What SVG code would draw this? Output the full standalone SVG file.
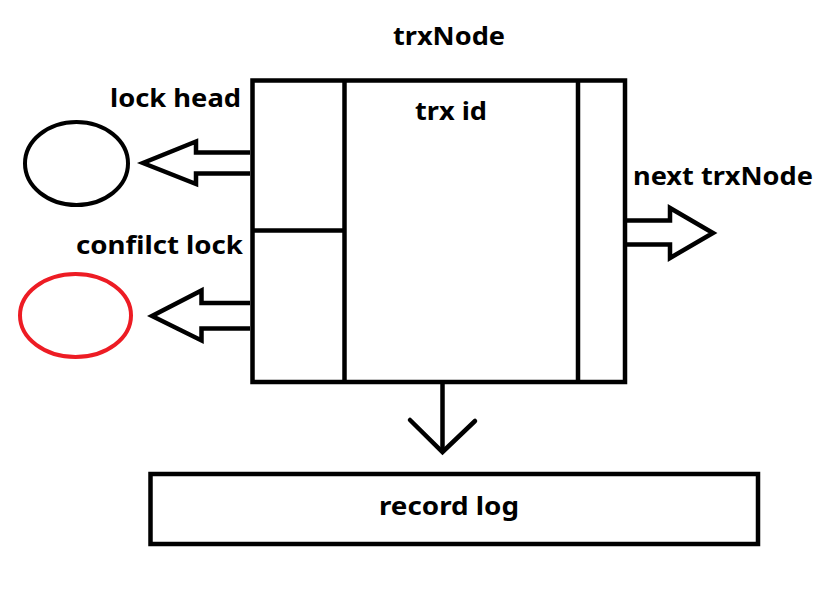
<svg xmlns="http://www.w3.org/2000/svg" width="830" height="607" viewBox="0 0 830 607">
<style>
.bg{fill:#ffffff}
.box{fill:#ffffff;stroke:#000000;stroke-width:4.5}
.ln{fill:none;stroke:#000000;stroke-width:4.5}
.arr{fill:none;stroke:#000000;stroke-width:4.5;stroke-linejoin:miter}
.ell{fill:none;stroke-width:4}
.t{font-family:"Noto Sans","Liberation Sans",sans-serif;font-weight:bold;font-size:25.5px;fill:#000000}
</style>
<rect class="bg" x="0" y="0" width="830" height="607"/>
<g id="trxNode">
<rect class="box" x="252.5" y="80.5" width="372.5" height="301.5"/>
<line class="ln" x1="344.5" y1="80.5" x2="344.5" y2="382"/>
<line class="ln" x1="578" y1="80.5" x2="578" y2="382"/>
<line class="ln" x1="252.5" y1="230.5" x2="344.5" y2="230.5"/>
<text class="t" x="393" y="45" textLength="112" lengthAdjust="spacingAndGlyphs">trxNode</text>
<text class="t" x="415" y="120" textLength="72" lengthAdjust="spacingAndGlyphs">trx id</text>
</g>
<g id="lockHead">
<ellipse class="ell" cx="76.5" cy="163.5" rx="51.5" ry="41.5" stroke="#000000"/>
<text class="t" x="110" y="107" textLength="131" lengthAdjust="spacingAndGlyphs">lock head</text>
</g>
<g id="conflictLock">
<ellipse class="ell" cx="75.5" cy="315.5" rx="55.5" ry="41.5" stroke="#ED1C24"/>
<text class="t" x="76" y="254" textLength="167" lengthAdjust="spacingAndGlyphs">confilct lock</text>
</g>
<g id="nextTrxNode">
<text class="t" x="633" y="185" textLength="180" lengthAdjust="spacingAndGlyphs">next trxNode</text>
</g>
<g id="recordLog">
<rect class="box" x="150.5" y="474" width="607.5" height="70"/>
<text class="t" x="379" y="515" textLength="140" lengthAdjust="spacingAndGlyphs">record log</text>
</g>
<g id="connectors">
<polyline class="arr" points="250,152.5 196,152.5 196,141.5 143,163 196,184 196,173.5 250,173.5"/>
<polyline class="arr" points="250,303 201.5,303 201.5,290.5 152,316 201.5,340.5 201.5,328.5 250,328.5"/>
<polyline class="arr" points="627,220.5 670,220.5 670,208 713,233 670,258 670,244.5 627,244.5"/>
<line class="ln" x1="442.5" y1="384" x2="442.5" y2="452"/>
<polyline class="ln" points="410,420 442.5,452 475,421" style="stroke-linejoin:miter;stroke-linecap:round"/>
</g>
</svg>
